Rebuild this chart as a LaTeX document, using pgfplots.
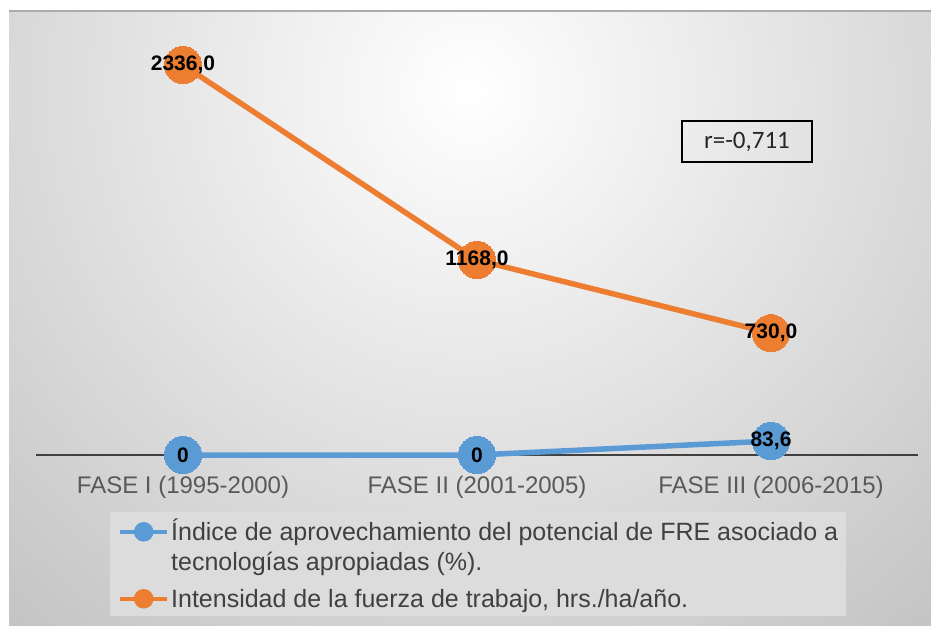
\documentclass[border=0pt]{standalone}
\usepackage{fontspec}
\setmainfont{Liberation Sans}
\newfontfamily\calib{Carlito}
\usepackage{pgfplots}
\pgfplotsset{compat=1.18}
\definecolor{serorange}{HTML}{ED7D31}
\definecolor{serblue}{HTML}{5B9BD5}
\definecolor{axisgray}{HTML}{404040}
\definecolor{tickgray}{HTML}{595959}
\definecolor{legtext}{HTML}{404040}
\definecolor{legfill}{HTML}{DCDCDC}
\definecolor{bgouter}{HTML}{B8B8B8}

\begin{document}
\begin{tikzpicture}[x=1pt,y=1pt]
\useasboundingbox (0,0) rectangle (931,627);
% background
\begin{scope}
  \clip (9,2) rectangle (931,616);
  \shade[inner color=white, outer color=bgouter] (470,537) circle (850);
\end{scope}
\draw[gray!65, line width=1.5pt] (9,616) -- (931,616);

\begin{axis}[
  at={(36pt,172pt)}, anchor=south west,
  scale only axis, width=882pt, height=390pt,
  xmin=-0.5, xmax=2.5, ymin=0, ymax=2336,
  clip=false,
  axis y line=none, axis x line=bottom,
  every outer x axis line/.append style={-},
  x axis line style={draw=axisgray, line width=2.5pt, -},
  xtick={0,1,2},
  xticklabels={FASE I (1995-2000), FASE II (2001-2005), FASE III (2006-2015)},
  major tick length=0pt,
  xticklabel style={font=\fontsize{24}{29}\selectfont, text=tickgray, yshift=-18pt},
  ytick=\empty,
  legend cell align=left,
  legend style={at={(0.0839,-0.146)}, anchor=north west, fill=legfill, draw=none,
    font=\fontsize{25}{30}\selectfont, text=legtext,
    cells={anchor=base west}, nodes={inner sep=0pt},
    column sep=2pt, row sep=46.7pt, inner xsep=8pt, inner ysep=7pt},
  legend image code/.code={
    \draw[#1, mark=none, line width=4pt] (0pt,9pt) -- (47pt,9pt);
    \fill[#1] (23.5pt,9pt) circle (7pt);
  },
]
\addplot[color=serblue, line width=5.5pt, mark=*, mark size=18.5pt,
  mark options={draw=serblue, fill=serblue, line width=0pt},
  nodes near coords={\pgfmathprintnumber[fixed, precision=1, use comma, 1000 sep={}, assume math mode=true]{\pgfplotspointmeta}},
  nodes near coords style={anchor=center, font=\bfseries\fontsize{21}{25}\selectfont, text=black}]
  coordinates {(0,0) (1,0) (2,83.6)};
\addlegendentry{\begin{tabular}[t]{@{}l@{}}Índice de aprovechamiento del potencial de FRE asociado a\\tecnologías apropiadas (\%).\end{tabular}}

\addplot[color=serorange, line width=5.5pt, mark=*, mark size=18.5pt,
  mark options={draw=serorange, fill=serorange, line width=0pt},
  nodes near coords={\pgfmathprintnumber[fixed, fixed zerofill, precision=1, use comma, 1000 sep={}, assume math mode=true]{\pgfplotspointmeta}},
  nodes near coords style={anchor=center, font=\bfseries\fontsize{21}{25}\selectfont, text=black}]
  coordinates {(0,2336) (1,1168) (2,730)};
\addlegendentry{Intensidad de la fuerza de trabajo, hrs./ha/año.}
\end{axis}

\node[draw=black, line width=1.5pt, minimum width=130pt, minimum height=41pt, inner sep=0pt,
  font=\calib\fontsize{25}{30}\selectfont, text=black!85] at (747,485.5) {r=-0,711};
\end{tikzpicture}
\end{document}
